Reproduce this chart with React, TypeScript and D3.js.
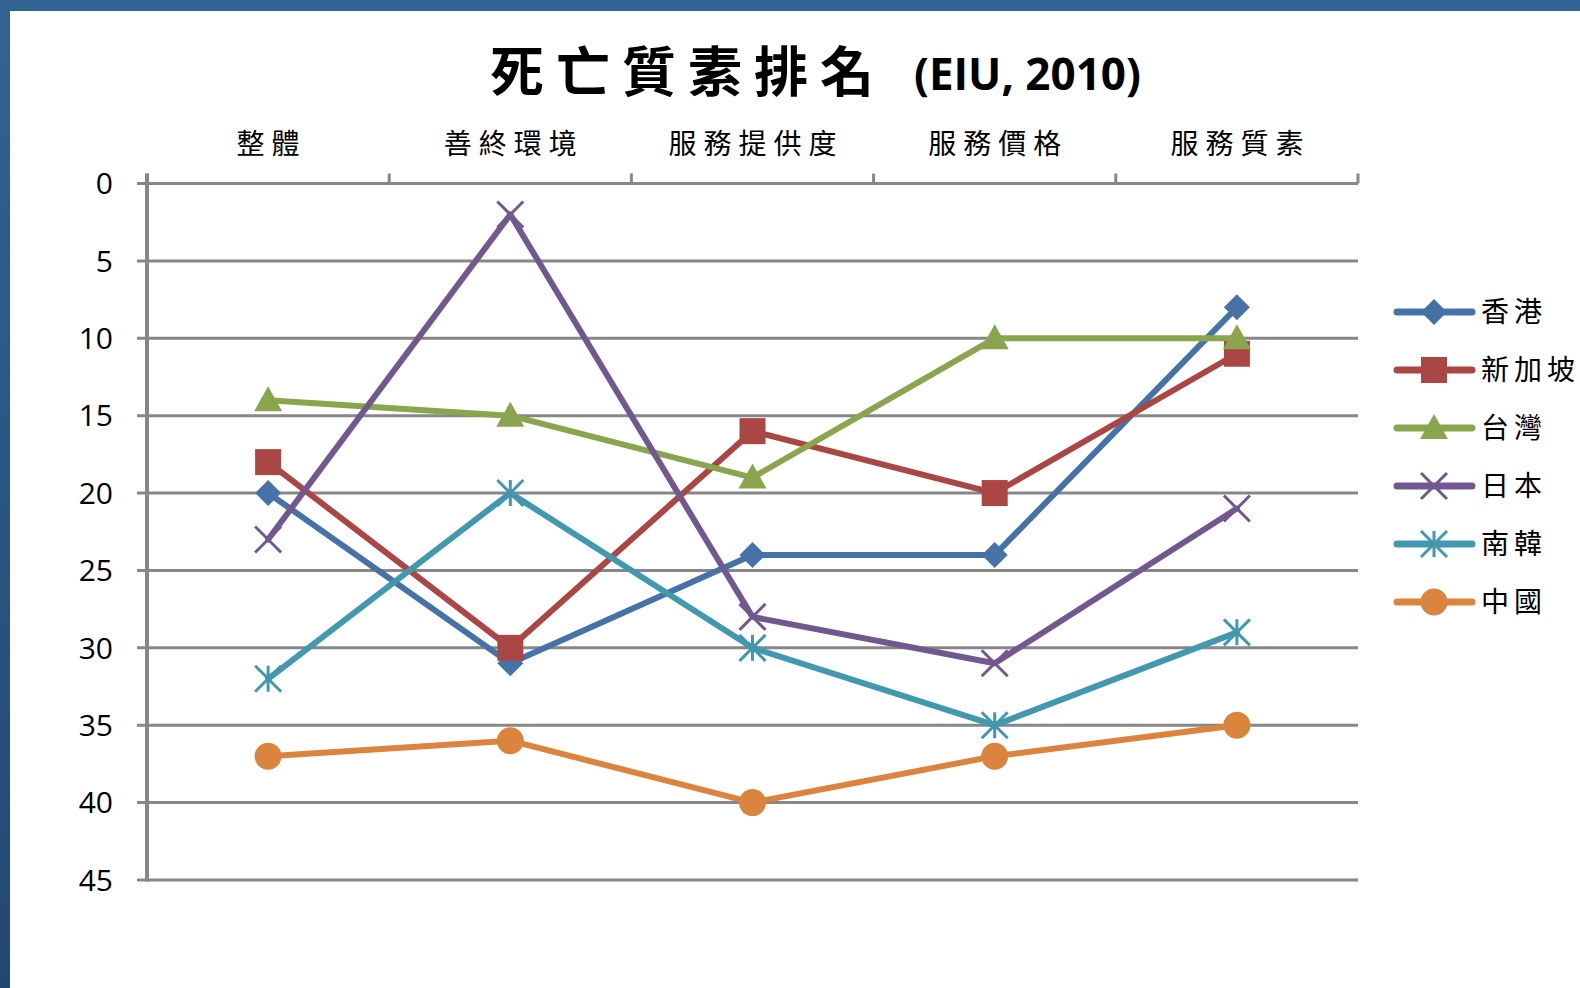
import React from 'react';
import * as d3 from 'd3';

const categories = ['整體', '善終環境', '服務提供度', '服務價格', '服務質素'];
const seriesNames = ['香港', '新加坡', '台灣', '日本', '南韓', '中國'];
const hongKong = [20, 31, 24, 24, 8];
const singapore = [18, 30, 16, 20, 11];
const taiwan = [14, 15, 19, 10, 10];
const japan = [23, 2, 28, 31, 21];
const southKorea = [32, 20, 30, 35, 29];
const china = [37, 36, 40, 37, 35];
const yTicks = [0, 5, 10, 15, 20, 25, 30, 35, 40, 45];
const titleCjk = '死亡質素排名';
const titleLatin = '(EIU, 2010)';

const seriesValues = [hongKong, singapore, taiwan, japan, southKorea, china];
const colors = ['#4572A7', '#AA4643', '#89A54E', '#71588F', '#4198AF', '#DB843D'];
const markerTypes = ['diamond', 'square', 'triangle', 'x', 'star', 'circle'];

const W = 1580;
const H = 988;
const left = 147;
const right = 1358;
const top = 183.5;
const bottom = 880;

const CJK = '"Noto Sans CJK TC", "Noto Sans CJK SC", sans-serif';
const LATIN = '"Open Sans", "Noto Sans", sans-serif';

function Marker({ type, cx, cy, color }: { type: string; cx: number; cy: number; color: string }) {
  const s = 13;
  switch (type) {
    case 'diamond':
      return <path d={`M${cx},${cy - s} L${cx + s},${cy} L${cx},${cy + s} L${cx - s},${cy} Z`} fill={color} />;
    case 'square':
      return <rect x={cx - s} y={cy - s} width={2 * s} height={2 * s} fill={color} />;
    case 'triangle':
      return <path d={`M${cx},${cy - 14} L${cx + 14},${cy + 11} L${cx - 14},${cy + 11} Z`} fill={color} />;
    case 'circle':
      return <circle cx={cx} cy={cy} r={13.5} fill={color} />;
    case 'x':
      return (
        <path
          d={`M${cx - s},${cy - s} L${cx + s},${cy + s} M${cx - s},${cy + s} L${cx + s},${cy - s}`}
          stroke={color}
          strokeWidth={3}
          fill="none"
        />
      );
    case 'star':
      return (
        <path
          d={`M${cx - s},${cy - s} L${cx + s},${cy + s} M${cx - s},${cy + s} L${cx + s},${cy - s} M${cx},${cy - s} L${cx},${cy + s}`}
          stroke={color}
          strokeWidth={3}
          fill="none"
        />
      );
    default:
      return null;
  }
}

export default function App() {
  const x = d3.scaleBand<string>().domain(categories).range([left, right]).paddingInner(0).paddingOuter(0);
  const y = d3.scaleLinear().domain([0, 45]).range([top, bottom]);
  const cx = (c: string) => (x(c) as number) + x.bandwidth() / 2;
  const line = d3
    .line<number>()
    .x((_, i) => cx(categories[i]))
    .y((d) => y(d));

  const boundaries = [...categories.map((c) => x(c) as number), right];
  const grid = '#878787';
  const legendY0 = 312;
  const legendStep = 58;

  return (
    <svg
      width={W}
      height={H}
      viewBox={`0 0 ${W} ${H}`}
      style={{ position: 'absolute', left: 0, top: 0, display: 'block', background: '#fff' }}
    >
      <defs>
        <linearGradient id="leftBand" x1="0" y1="0" x2="0" y2="1">
          <stop offset="0" stopColor="#316395" />
          <stop offset="1" stopColor="#234870" />
        </linearGradient>
      </defs>
      <rect x={0} y={0} width={W} height={H} fill="#fff" />
      <rect x={0} y={0} width={W} height={11} fill="#316395" />
      <rect x={0} y={0} width={10} height={H} fill="url(#leftBand)" />

      {/* title */}
      <text x={490} y={92} fontFamily={CJK} fontWeight={700} fontSize={54} letterSpacing={12} fill="#000">
        {titleCjk}
      </text>
      <text x={914} y={90} fontFamily={LATIN} fontWeight={700} fontSize={44} fill="#000">
        {titleLatin}
      </text>

      {/* gridlines */}
      {yTicks.map((t) => (
        <line key={t} x1={left - 10} x2={right} y1={y(t)} y2={y(t)} stroke={grid} strokeWidth={3} />
      ))}
      {/* y axis */}
      <line x1={left} x2={left} y1={top - 10} y2={bottom + 1.5} stroke={grid} strokeWidth={4} />
      {/* top category ticks */}
      {boundaries.map((b, i) => (
        <line key={i} x1={b} x2={b} y1={top - 10} y2={top} stroke={grid} strokeWidth={3} />
      ))}

      {/* y tick labels */}
      {yTicks.map((t) => (
        <text
          key={t}
          x={113}
          y={y(t)}
          dy="0.36em"
          textAnchor="end"
          fontFamily={LATIN}
          fontSize={30}
          fill="#000"
        >
          {t}
        </text>
      ))}

      {/* category labels */}
      {categories.map((c) => (
        <text
          key={c}
          x={cx(c) + 3.5}
          y={154}
          textAnchor="middle"
          fontFamily={CJK}
          fontSize={28}
          letterSpacing={7}
          fill="#000"
        >
          {c}
        </text>
      ))}

      {/* series */}
      {seriesValues.map((vals, si) => (
        <g key={si}>
          <path
            d={line(vals) as string}
            fill="none"
            stroke={colors[si]}
            strokeWidth={6}
            strokeLinejoin="round"
            strokeLinecap="round"
          />
          {vals.map((v, i) => (
            <Marker key={i} type={markerTypes[si]} cx={cx(categories[i])} cy={y(v)} color={colors[si]} />
          ))}
        </g>
      ))}

      {/* legend */}
      {seriesNames.map((n, si) => {
        const ly = legendY0 + si * legendStep;
        return (
          <g key={n}>
            <line x1={1397} x2={1472} y1={ly} y2={ly} stroke={colors[si]} strokeWidth={7} strokeLinecap="round" />
            <Marker type={markerTypes[si]} cx={1434} cy={ly} color={colors[si]} />
            <text x={1481} y={ly} dy="0.36em" fontFamily={CJK} fontSize={28} letterSpacing={5} fill="#000">
              {n}
            </text>
          </g>
        );
      })}
    </svg>
  );
}
